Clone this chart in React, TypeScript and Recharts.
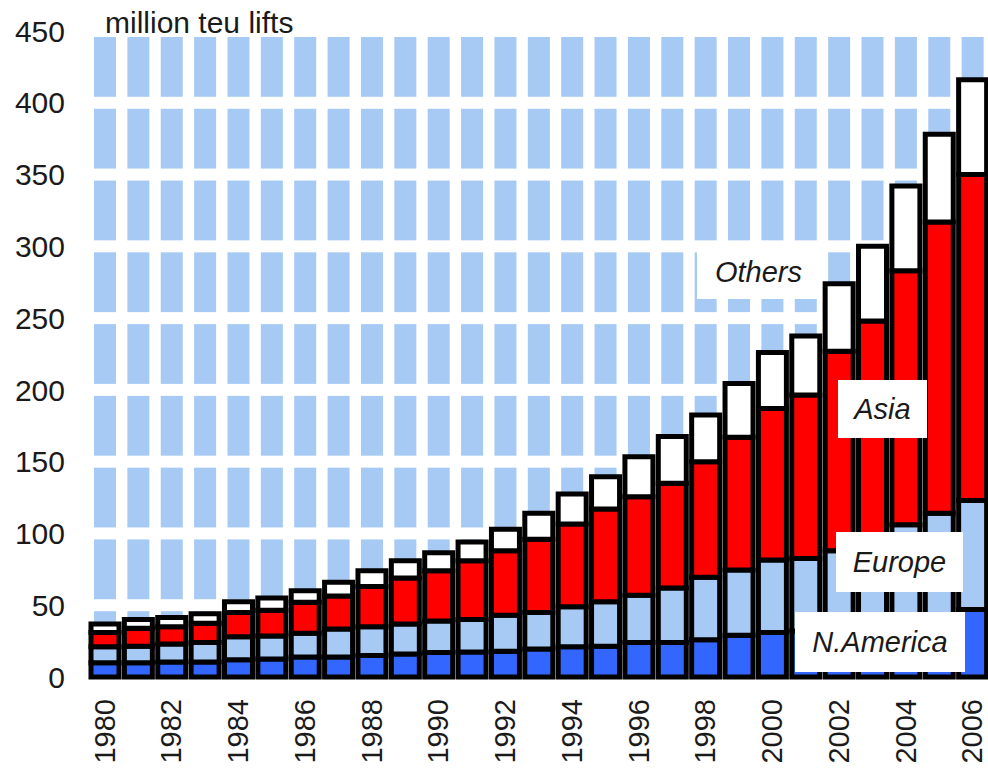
import { BarChart, Bar, XAxis, YAxis } from "recharts";

const years = [
  "1980", "1981", "1982", "1983", "1984", "1985", "1986", "1987", "1988", "1989",
  "1990", "1991", "1992", "1993", "1994", "1995", "1996", "1997", "1998", "1999",
  "2000", "2001", "2002", "2003", "2004", "2005", "2006",
];
const northAmerica = [10, 10, 10.5, 10.5, 12, 12.5, 14, 14, 15, 16, 17, 17.5, 18, 19.5, 21, 21.5, 24, 24, 26, 29, 31, 32, 33, 36, 40, 43, 47];
const europe = [11, 11.5, 12.5, 13.5, 16, 16, 16.5, 19.5, 20, 21, 22, 22.5, 25, 25.5, 28, 31, 33, 38, 43.5, 45.5, 50.5, 50.5, 55, 61, 66, 71, 76];
const asia = [10, 12.5, 12, 13.5, 17, 18, 21.5, 23, 28, 32, 35, 41, 45, 51, 57.5, 64.5, 68.5, 73, 80.5, 92.5, 105.5, 114, 139, 151, 177, 203, 227];
const others = [6, 6, 6.5, 6.5, 7.5, 8.5, 8, 9.5, 11, 12, 12.5, 13, 15, 18, 21, 22.5, 28, 32.5, 32.5, 37.5, 39, 41, 47, 52, 59, 61, 66];
const yTicks = [0, 50, 100, 150, 200, 250, 300, 350, 400, 450];

const data = years.map((year, i) => ({
  year,
  northAmerica: northAmerica[i],
  europe: europe[i],
  asia: asia[i],
  others: others[i],
}));

const FONT = "'Liberation Sans', Arial, sans-serif";

// light blue tiles behind each column, split at every 50 gridline
const Tiles = (props: any) => {
  const { x, y, width, height } = props;
  const bands = yTicks.length - 1;
  const bh = height / bands;
  const cx = x + width / 2;
  const tw = 22;
  return (
    <g>
      {Array.from({ length: bands }).map((_, i) => (
        <rect key={i} x={cx - tw / 2} y={y + i * bh + 6} width={tw} height={bh - 12} fill="#a6caf3" />
      ))}
    </g>
  );
};

const YearTick = (props: any) => {
  const { x, y, payload } = props;
  return (
    <text
      x={x}
      y={y}
      transform={`rotate(-90, ${x}, ${y})`}
      textAnchor="end"
      dominantBaseline="central"
      fontSize={29}
      fontFamily={FONT}
      fill="#1a1a1a"
    >
      {payload.value}
    </text>
  );
};

// white label boxes laid over the bars
const LabelBox = ({ text, left, top, width, height }: { text: string; left: number; top: number; width: number; height: number }) => (
  <div
    style={{
      position: "absolute",
      left,
      top,
      width,
      height,
      background: "#fff",
      display: "flex",
      alignItems: "center",
      justifyContent: "center",
      fontFamily: FONT,
      fontStyle: "italic",
      fontSize: 29,
      color: "#1a1a1a",
    }}
  >
    {text}
  </div>
);

export default function App() {
  return (
    <div style={{ position: "absolute", left: 0, top: 0, width: 988, height: 775, overflow: "hidden", background: "#fff" }}>
      <BarChart width={1000} height={775} data={data} margin={{ top: 31, right: 11, bottom: 0, left: 0 }} barSize={28}>
        <XAxis
          dataKey="year"
          interval={1}
          axisLine={false}
          tickLine={false}
          tickSize={0}
          tickMargin={22}
          height={98}
          tick={<YearTick />}
        />
        <YAxis
          domain={[0, 450]}
          ticks={yTicks}
          width={88}
          axisLine={false}
          tickLine={false}
          tickSize={0}
          tickMargin={23}
          tick={{ fontSize: 30, fontFamily: FONT, fill: "#1a1a1a" }}
        />
        <Bar dataKey="northAmerica" stackId="a" fill="#3366ff" stroke="#000" strokeWidth={5} background={Tiles} isAnimationActive={false} />
        <Bar dataKey="europe" stackId="a" fill="#a6caf3" stroke="#000" strokeWidth={5} isAnimationActive={false} />
        <Bar dataKey="asia" stackId="a" fill="#ff0000" stroke="#000" strokeWidth={5} isAnimationActive={false} />
        <Bar dataKey="others" stackId="a" fill="#ffffff" stroke="#000" strokeWidth={5} isAnimationActive={false} />
        <text x={105} y={33} fontSize={30} fontFamily={FONT} fill="#1a1a1a">
          million teu lifts
        </text>
      </BarChart>
      <LabelBox text="Others" left={697} top={245} width={123} height={54} />
      <LabelBox text="Asia" left={838} top={380} width={89} height={58} />
      <LabelBox text="Europe" left={836} top={532} width={127} height={60} />
      <LabelBox text="N.America" left={795} top={612} width={170} height={60} />
    </div>
  );
}
